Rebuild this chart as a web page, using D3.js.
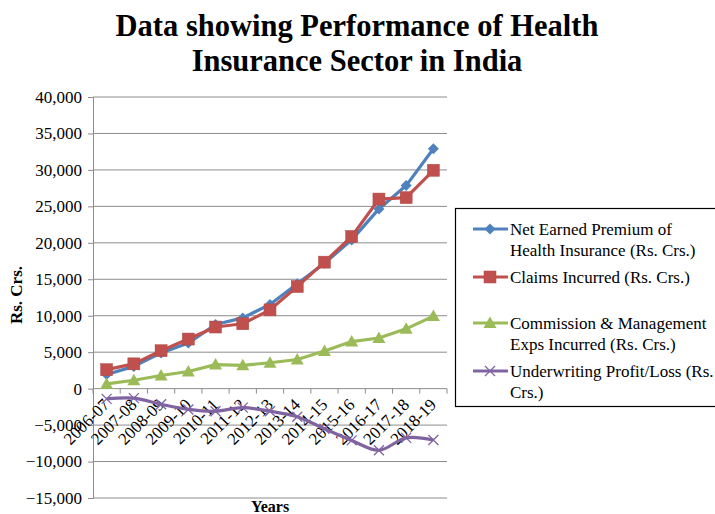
<!DOCTYPE html>
<html>
<head>
<meta charset="utf-8">
<script src="https://cdn.jsdelivr.net/npm/d3@7"></script>
<style>
  body { margin: 0; background: #fff; }
  svg text { font-family: "Liberation Serif", "Times New Roman", serif; }
</style>
</head>
<body>
<div data-chart></div>
<script>
const years = ["2006-07", "2007-08", "2008-09", "2009-10", "2010-11", "2011-12", "2012-13",
    "2013-14", "2014-15", "2015-16", "2016-17", "2017-18", "2018-19"]
const netPremium = [1950, 3050, 4900, 6250, 8800, 9700, 11550, 14400, 17200, 20400, 24650, 27850, 32900]
const claims = [2600, 3400, 5200, 6800, 8450, 8900, 10800, 14000, 17350, 20870, 26000, 26200, 29950]
const commission = [650, 1150, 1800, 2350, 3300, 3200, 3550, 4000, 5150, 6450, 6950, 8200, 9950]
const underwriting = [-1400, -1300, -2150, -2850, -3100, -2600, -3100, -3850, -5500, -7100, -8450, -6750, -7050]
const yTicks = [-15000, -10000, -5000, 0, 5000, 10000, 15000, 20000, 25000, 30000, 35000, 40000]

const series = [
    { name: ["Net Earned Premium of", "Health Insurance (Rs. Crs.)"], values: netPremium, color: "#4F81BD", marker: "diamond" },
    { name: ["Claims Incurred (Rs. Crs.)"], values: claims, color: "#C0504D", marker: "square" },
    { name: ["Commission & Management", "Exps Incurred (Rs. Crs.)"], values: commission, color: "#9BBB59", marker: "triangle" },
    { name: ["Underwriting Profit/Loss (Rs.", "Crs.)"], values: underwriting, color: "#8064A2", marker: "cross", smooth: true }
]

const width = 715, height = 514
const plot = { left: 93, right: 447, top: 97, bottom: 498 }
const serif = "Liberation Serif, Times New Roman, serif"

const svg = d3.select("[data-chart]").append("svg")
    .attr("width", width)
    .attr("height", height)

const x = d3.scaleBand().domain(years).range([plot.left, plot.right])
const y = d3.scaleLinear().domain([-15000, 40000]).range([plot.bottom, plot.top])

// title
svg.append("g")
    .selectAll("text")
    .data(["Data showing Performance of Health", "Insurance Sector in India"])
    .enter()
    .append("text")
    .attr("x", 357)
    .attr("y", (d, i) => 36 + i * 34.5)
    .attr("text-anchor", "middle")
    .style("font-size", "30.5px")
    .style("font-weight", "bold")
    .text(d => d)

// gridlines
svg.append("g")
    .selectAll("line")
    .data(yTicks)
    .enter()
    .append("line")
    .attr("x1", plot.left)
    .attr("x2", plot.right)
    .attr("y1", d => y(d))
    .attr("y2", d => y(d))
    .attr("stroke", "#8c8c8c")
    .attr("stroke-width", 1)

// y axis
let yAxis = svg.append("g")
    .attr("transform", "translate(" + plot.left + ",0)")
    .call(d3.axisLeft(y).tickValues(yTicks).tickSize(5).tickPadding(6)
        .tickFormat(d => d3.format(",")(d).replace("-", "\u2212")))
yAxis.attr("font-family", serif)
yAxis.select(".domain").attr("stroke", "#8c8c8c")
yAxis.selectAll(".tick line").attr("stroke", "#8c8c8c")
yAxis.selectAll("text").style("font-size", "17px").attr("fill", "#000")

// x axis at zero
let xAxis = svg.append("g")
    .attr("transform", "translate(0," + y(0) + ")")
    .call(d3.axisBottom(x).tickSize(0).tickPadding(0))
xAxis.attr("font-family", serif)
xAxis.select(".domain").remove()
xAxis.selectAll(".tick").each(function (d) {
    d3.select(this).insert("line", "text")
        .attr("x1", -x.bandwidth() / 2).attr("x2", -x.bandwidth() / 2)
        .attr("y1", 0).attr("y2", 5)
        .attr("stroke", "#8c8c8c")
})
xAxis.append("line")
    .attr("x1", plot.right).attr("x2", plot.right)
    .attr("y1", 0).attr("y2", 5)
    .attr("stroke", "#8c8c8c")
xAxis.selectAll("text")
    .style("font-size", "17px")
    .attr("fill", "#000")
    .attr("text-anchor", "end")
    .attr("dy", null)
    .attr("y", 0)
    .attr("transform", "translate(4,17)rotate(-45)")

// axis titles
svg.append("text")
    .attr("transform", "translate(22,295)rotate(-90)")
    .attr("text-anchor", "middle")
    .style("font-size", "17px")
    .style("font-weight", "bold")
    .text("Rs. Crs.")
svg.append("text")
    .attr("x", 270)
    .attr("y", 512)
    .attr("text-anchor", "middle")
    .style("font-size", "16px")
    .style("font-weight", "bold")
    .text("Years")

const cx = d => x(d) + x.bandwidth() / 2

function drawMarker(g, type, color) {
    if (type === "diamond") {
        g.append("path").attr("d", "M0,-5.5L5.5,0L0,5.5L-5.5,0Z").attr("fill", color)
    } else if (type === "square") {
        g.append("rect").attr("x", -6).attr("y", -6).attr("width", 12).attr("height", 12)
            .attr("fill", color).attr("stroke", "#b04a47").attr("stroke-width", 0.5)
    } else if (type === "triangle") {
        g.append("path").attr("d", "M0,-6.5L6.5,5L-6.5,5Z").attr("fill", color)
    } else {
        g.append("path").attr("d", "M-5,-5L5,5M-5,5L5,-5").attr("stroke", color).attr("stroke-width", 1.3)
    }
}

series.forEach(s => {
    let line = d3.line()
        .x((d, i) => cx(years[i]))
        .y(d => y(d))
        .curve(s.smooth ? d3.curveCatmullRom.alpha(0.5) : d3.curveLinear)
    svg.append("path")
        .datum(s.values)
        .attr("d", line)
        .attr("fill", "none")
        .attr("stroke", s.color)
        .attr("stroke-width", 3.2)
        .attr("stroke-linejoin", "round")
    s.values.forEach((v, i) => {
        let g = svg.append("g").attr("transform", "translate(" + cx(years[i]) + "," + y(v) + ")")
        drawMarker(g, s.marker, s.color)
    })
})

// legend
let legend = svg.append("g")
legend.append("rect")
    .attr("x", 455.5).attr("y", 208.5)
    .attr("width", 280).attr("height", 198)
    .attr("fill", "#fff").attr("stroke", "#000").attr("stroke-width", 1.2)

const legendY = [229, 277, 323, 371]
series.forEach((s, k) => {
    let ly = legendY[k]
    legend.append("line")
        .attr("x1", 473).attr("x2", 508)
        .attr("y1", ly).attr("y2", ly)
        .attr("stroke", s.color).attr("stroke-width", 3.2)
    let g = legend.append("g").attr("transform", "translate(490," + ly + ")")
    drawMarker(g, s.marker, s.color)
    s.name.forEach((t, j) => {
        legend.append("text")
            .attr("x", 510)
            .attr("y", ly + 6 + j * 20.5)
            .style("font-size", "17px")
            .text(t)
    })
})
</script>
</body>
</html>
